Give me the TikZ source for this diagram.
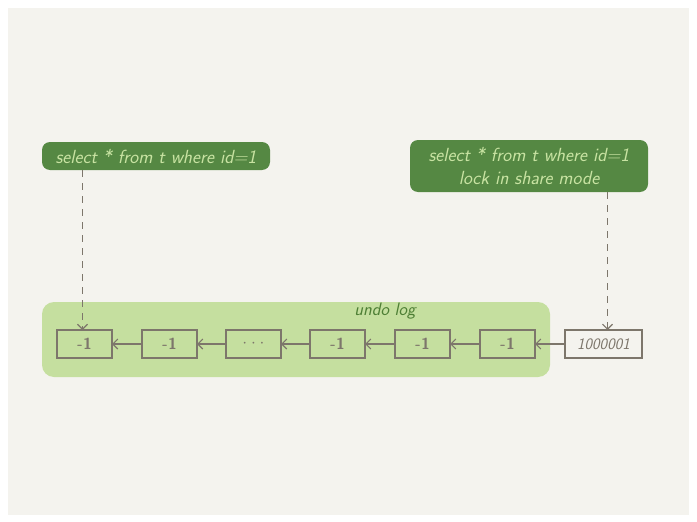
\documentclass[tikz,border=0pt]{standalone}
\usepackage{tikz}
\usetikzlibrary{arrows.meta,calc,positioning}
\definecolor{PaperBeige}{HTML}{F4F3EE}
\definecolor{QueryGreen}{HTML}{558843}
\definecolor{QueryText}{HTML}{C8E3A2}
\definecolor{LogGreen}{HTML}{C5DF9F}
\definecolor{LogTitle}{HTML}{4E7F35}
\definecolor{RowGray}{HTML}{7D766B}

\tikzset{
  query/.style={fill=QueryGreen, rounded corners=8pt, text=QueryText,
    font=\sffamily\itshape\fontsize{19}{23}\selectfont, align=center,
    inner xsep=4pt, inner ysep=3pt},
  rowbox/.style={draw=RowGray, line width=1.4pt, outer sep=0pt, minimum width=55pt,
    minimum height=28pt, text=RowGray, font=\sffamily\bfseries\fontsize{16}{18}\selectfont},
  chain/.style={draw=RowGray, line width=1.1pt, -{Straight Barb[length=5pt,width=10pt]}},
  probe/.style={draw=RowGray, line width=1.1pt, dash pattern=on 7pt off 6pt,
    -{Straight Barb[length=5pt,width=10pt]}}
}

\begin{document}
\begin{tikzpicture}[x=1pt,y=-1pt]
  \useasboundingbox (0,0) rectangle (697,522);
  \fill[PaperBeige] (8,8) rectangle (689,515);

  % undo log area
  \fill[LogGreen, rounded corners=12pt] (42,302) rectangle (550,377);
  \node[text=LogTitle, font=\sffamily\itshape\fontsize{18}{20}\selectfont] (logname) at (385,311) {undo log};

  % row versions, newest on the right
  \node[rowbox] (v1) at (84.5,344) {-1};
  \node[rowbox, right=30pt of v1] (v2) {-1};
  \node[rowbox, right=29pt of v2] (v3) {$\cdot\cdot\cdot$};
  \node[rowbox, right=29pt of v3] (v4) {-1};
  \node[rowbox, right=30pt of v4] (v5) {-1};
  \node[rowbox, right=30pt of v5] (v6) {-1};
  \node[rowbox, minimum width=77pt, right=30pt of v6,
    font=\sffamily\itshape\fontsize{16}{18}\selectfont] (cur) {1000001};

  \draw[chain] (cur.west) -- (v6.east);
  \draw[chain] (v6.west) -- (v5.east);
  \draw[chain] (v5.west) -- (v4.east);
  \draw[chain] (v4.west) -- (v3.east);
  \draw[chain] (v3.west) -- (v2.east);
  \draw[chain] (v2.west) -- (v1.east);

  % the two reads
  \node[query, minimum width=228pt, minimum height=28pt] (snap) at (156,156) {select * from t where id=1};
  \node[query, minimum width=238pt, minimum height=52pt] (locked) at (529,166) {select * from t where id=1\\lock in share mode};

  \draw[probe] ($(snap.south -| v1.north)+(-2,0)$) -- ($(v1.north)+(-2,0)$);
  \draw[probe] ($(locked.south -| cur.north)+(4,0)$) -- ($(cur.north)+(4,0)$);
\end{tikzpicture}
\end{document}
